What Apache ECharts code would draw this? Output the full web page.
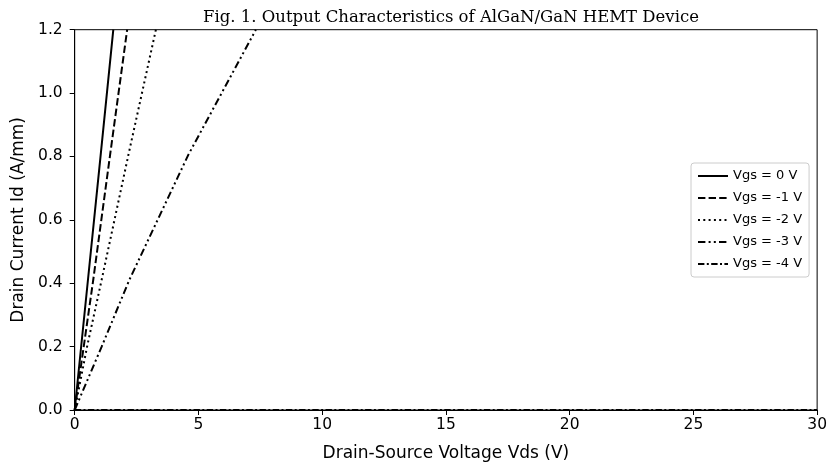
<!DOCTYPE html>
<html><head><meta charset="utf-8">
<script src="https://cdn.jsdelivr.net/npm/echarts@6/dist/echarts.min.js"></script>
<style>html,body{margin:0;padding:0;background:#fff}#c{width:830px;height:467px}</style>
</head><body><div id="c"></div>
<script>
const seriesNames = ['Vgs = 0 V','Vgs = -1 V','Vgs = -2 V','Vgs = -3 V','Vgs = -4 V'];
const vds0 = [0, 1.05, 1.56];
const id0  = [0, 0.805, 1.2];
const vds1 = [0, 0.75, 1.43, 2.12];
const id1  = [0, 0.411, 0.805, 1.2];
const vds2 = [0, 0.5, 1.09, 2.17, 3.28];
const id2  = [0, 0.2, 0.411, 0.805, 1.2];
const vds3 = [0, 1.09, 2.21, 4.59, 7.32];
const id3  = [0, 0.2, 0.411, 0.805, 1.2];
const vds4 = [0, 30];
const id4  = [0, 0];
const xTicks = [0,5,10,15,20,25,30];
const yTicks = [0.0,0.2,0.4,0.6,0.8,1.0,1.2];

const xs = [vds0,vds1,vds2,vds3,vds4];
const ys = [id0,id1,id2,id3,id4];
const dashes = ['solid',[7.4,3.2],[2,3.3],[7.4,3.2,2,3.2,2,3.2],[6.4,2.4,2,2.4]];
const chart = echarts.init(document.getElementById('c'), null, {renderer:'canvas'});
const font = 'DejaVu Sans';
chart.setOption({
  animation:false,
  backgroundColor:'#fff',
  title:{text:'Fig. 1. Output Characteristics of AlGaN/GaN HEMT Device',left:446,top:4,textAlign:'center',
    textStyle:{fontFamily:'DejaVu Serif',fontWeight:'normal',fontSize:16.5,color:'#000'}},
  grid:{left:74.7,right:12.3,top:29.7,bottom:56.7,show:true,borderColor:'#000',borderWidth:1,backgroundColor:'transparent'},
  legend:{orient:'vertical',left:691,top:163,padding:[6,7,6,6],itemGap:8,itemWidth:30,itemHeight:14,
    backgroundColor:'#fff',borderColor:'#ccc',borderWidth:1,borderRadius:3,
    itemStyle:{opacity:0},
    textStyle:{fontFamily:font,fontSize:13,color:'#000',lineHeight:14},
    data:seriesNames},
  xAxis:{type:'value',min:xTicks[0],max:xTicks[xTicks.length-1],interval:5,
    name:'Drain-Source Voltage Vds (V)',nameLocation:'middle',nameGap:35,
    nameTextStyle:{fontFamily:font,fontSize:17,color:'#000'},
    axisLine:{show:true,onZero:false,lineStyle:{color:'#000',width:1}},
    axisTick:{show:true,length:5,lineStyle:{color:'#000'}},
    axisLabel:{fontFamily:font,fontSize:15.5,color:'#000',margin:7},
    splitLine:{show:false}},
  yAxis:{type:'value',min:yTicks[0],max:yTicks[yTicks.length-1],interval:0.2,
    name:'Drain Current Id (A/mm)',nameLocation:'middle',nameGap:46,
    nameTextStyle:{fontFamily:font,fontSize:17,color:'#000'},
    axisLine:{show:true,onZero:false,lineStyle:{color:'#000',width:1}},
    axisTick:{show:true,length:5,lineStyle:{color:'#000'}},
    axisLabel:{fontFamily:font,fontSize:15.5,color:'#000',margin:12,formatter:v=>v.toFixed(1)},
    splitLine:{show:false}},
  series: seriesNames.map((n,i)=>({
    name:n,type:'line',symbol:'none',clip:true,
    data: xs[i].map((x,j)=>[x, ys[i][j]]),
    lineStyle:{color:'#000',width:2,type:dashes[i]},
    itemStyle:{color:'#000'}
  }))
});
</script></body></html>
